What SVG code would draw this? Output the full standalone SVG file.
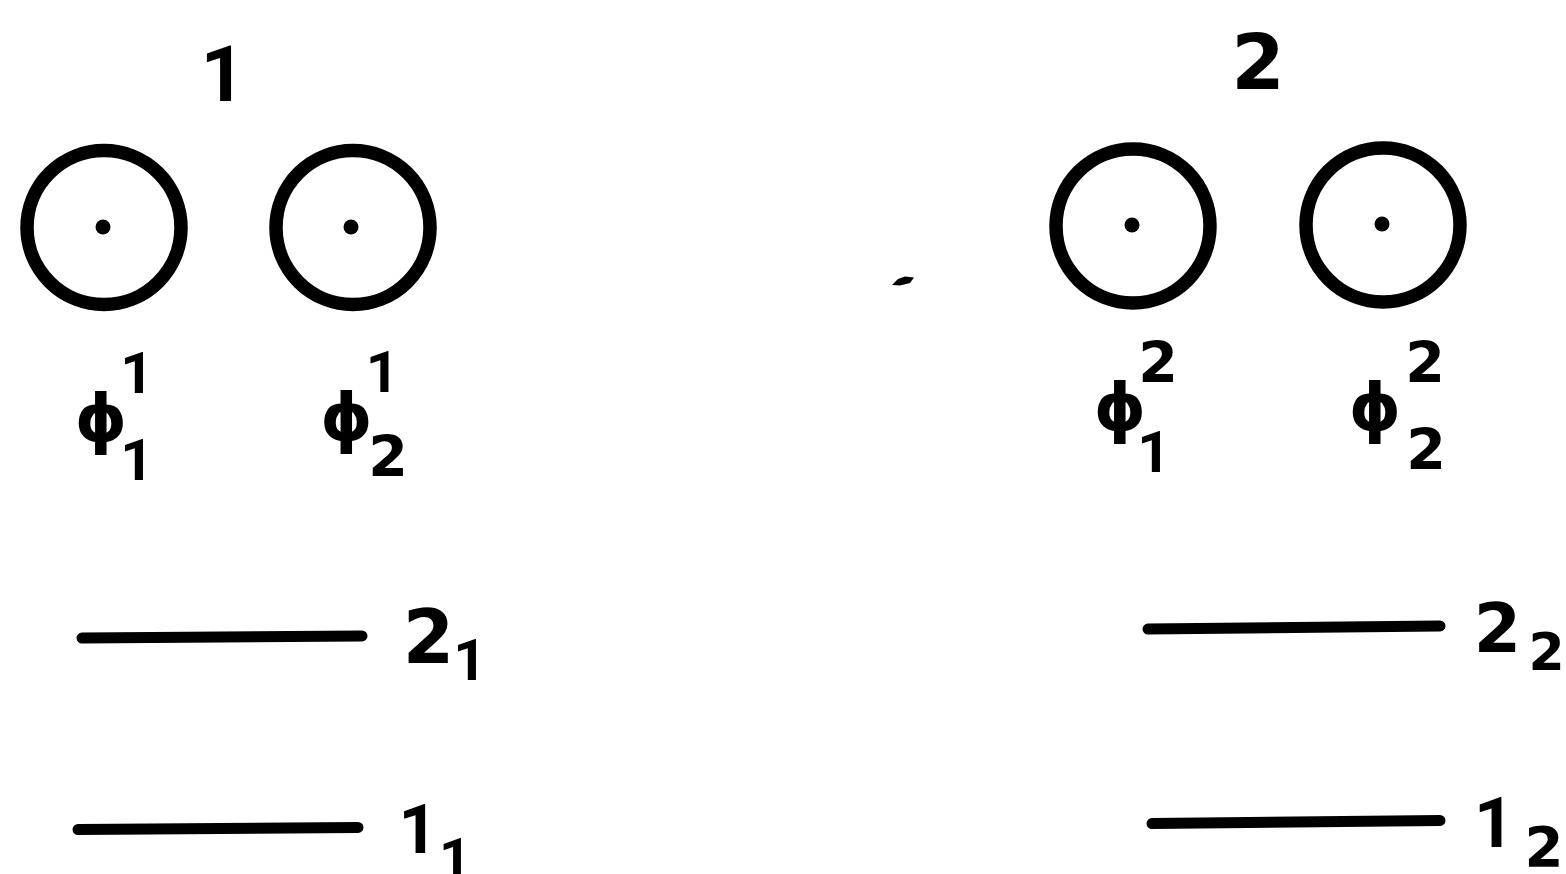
<svg xmlns="http://www.w3.org/2000/svg" width="1566" height="874" viewBox="0 0 1566 874">
<style>
.ring{fill:none;stroke:#000;stroke-width:13.5}
.dot{fill:#000}
.lvl{stroke:#000;stroke-width:11;stroke-linecap:round;fill:none}
text{fill:#000;text-anchor:middle;font-weight:bold}
.d2{font-family:"DejaVu Sans","Liberation Sans",sans-serif}
.d1{font-family:Roboto,"Liberation Sans",Arial,sans-serif}
.phi{font-family:"DejaVu Sans","Noto Sans",sans-serif;font-size:66px}
</style>
<rect width="1566" height="874" fill="#fff"/>
<g id="label-1"><text class="d1" x="223" y="101" font-size="78">1</text></g>
<g id="label-2"><text class="d2" x="1258" y="89" font-size="77">2</text></g>

<g id="orbital-1-1">
<circle class="ring" cx="104" cy="227.5" r="77"/>
<circle class="dot" cx="103" cy="227" r="7.5"/>
<text class="phi" x="101" y="441">ϕ</text>
<text class="d1" x="137" y="393" font-size="58">1</text>
<text class="d1" x="137" y="480" font-size="58">1</text>
</g>
<g id="orbital-1-2">
<circle class="ring" cx="353" cy="227.5" r="77"/>
<circle class="dot" cx="351" cy="227" r="7.5"/>
<text class="phi" x="346.5" y="440">ϕ</text>
<text class="d1" x="382.5" y="392" font-size="58">1</text>
<text class="d2" x="388" y="477" font-size="57">2</text>
</g>
<g id="orbital-2-1">
<circle class="ring" cx="1133" cy="226" r="77"/>
<circle class="dot" cx="1132" cy="225" r="7.5"/>
<text class="phi" x="1120" y="430">ϕ</text>
<text class="d2" x="1158" y="383" font-size="57">2</text>
<text class="d1" x="1154" y="472" font-size="58">1</text>
</g>
<g id="orbital-2-2">
<circle class="ring" cx="1383" cy="225" r="77"/>
<circle class="dot" cx="1382" cy="224" r="7.5"/>
<text class="phi" x="1375" y="430">ϕ</text>
<text class="d2" x="1425" y="383" font-size="57">2</text>
<text class="d2" x="1426" y="470" font-size="57">2</text>
</g>

<g id="levels">
<g id="level-2-1">
<path class="lvl" d="M82 638 L362 636"/>
<text class="d2" x="428.5" y="663" font-size="74">2</text>
<text class="d1" x="470" y="680" font-size="58">1</text>
</g>
<g id="level-1-1">
<path class="lvl" d="M78 829.5 L358 827.5"/>
<text class="d1" x="418" y="853" font-size="68">1</text>
<text class="d1" x="455" y="878" font-size="56">1</text>
</g>
<g id="level-2-2">
<path class="lvl" d="M1148 629 L1440 626"/>
<text class="d2" x="1497.5" y="652" font-size="68">2</text>
<text class="d2" x="1546.5" y="670" font-size="52">2</text>
</g>
<g id="level-1-2">
<path class="lvl" d="M1152 823.5 L1440 820.5"/>
<text class="d1" x="1494" y="847" font-size="70">1</text>
<text class="d2" x="1544" y="866" font-size="56">2</text>
</g>
</g>
<path id="speck" d="M892 285 L898 279 L905 276.5 L914 277.5 L910 283 L900 285.5 Z" fill="#000"/>
</svg>
